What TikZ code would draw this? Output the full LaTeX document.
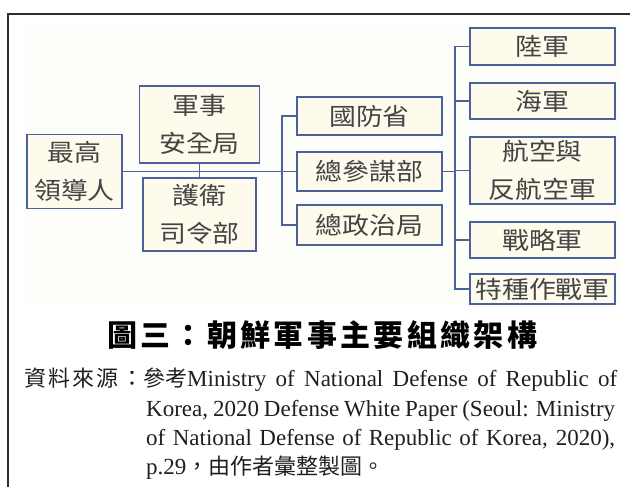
\documentclass[tikz,border=0pt]{standalone}
\usepackage{fontspec}
\setmainfont{Liberation Serif}
\newfontfamily\cjk{Noto Sans CJK TC}
\newfontfamily\cjkbox[FakeStretch=1.12]{Noto Sans CJK TC}
\newcommand\zh[1]{{\cjk\fontsize{22}{22}\selectfont #1}}
\definecolor{boxborder}{RGB}{74,97,153}
\definecolor{boxfill}{RGB}{255,251,236}
\definecolor{boxtext}{RGB}{68,68,68}
\definecolor{framecol}{RGB}{45,45,45}
\definecolor{panel}{RGB}{253,253,250}
\tikzset{
  orgbox/.style={draw=boxborder, line width=1.9pt, fill=boxfill, inner sep=0pt,
    align=center, text=boxtext, font=\cjkbox\fontsize{24}{38}\selectfont},
  conn/.style={draw=boxborder, line width=1.7pt},
  srcline/.style={anchor=base west, inner sep=0pt, font=\fontsize{23}{23}\selectfont, text=black!88}
}
\begin{document}
\begin{tikzpicture}[x=1pt,y=-1pt]
\useasboundingbox (0,0) rectangle (630,487);
% frame and panel
\fill[panel] (25,25) rectangle (620,306);
\draw[framecol, line width=2.2pt] (8,487) -- (8,14) -- (630,14);
% left column
\node[orgbox, minimum width=95pt, minimum height=74pt] (lead) at (74.5,171.5) {最高\\領導人};
\node[orgbox, minimum width=120pt, minimum height=77pt] (msa) at (199.5,124.5) {軍事\\安全局};
\node[orgbox, minimum width=113pt, minimum height=73pt] (guard) at (199.5,214.5) {護衛\\司令部};
% middle column
\node[orgbox, minimum width=145pt, minimum height=38pt] (mnd) at (369.5,116) {國防省};
\node[orgbox, minimum width=145pt, minimum height=39pt] (gsd) at (369.5,171.5) {總參謀部};
\node[orgbox, minimum width=145pt, minimum height=40pt] (gpb) at (369.5,225) {總政治局};
% right column
\node[orgbox, minimum width=145pt, minimum height=37pt] (army) at (542.5,46.5) {陸軍};
\node[orgbox, minimum width=145pt, minimum height=36pt] (navy) at (542.5,101) {海軍};
\node[orgbox, minimum width=145pt, minimum height=67pt] (air) at (542.5,170.5) {航空與\\反航空軍};
\node[orgbox, minimum width=145pt, minimum height=36pt] (strat) at (542.5,240) {戰略軍};
\node[orgbox, minimum width=145pt, minimum height=30pt] (sof) at (542.5,289) {特種作戰軍};
% junction columns
\coordinate (j1) at (282,0);
\coordinate (j2) at (455,0);
% connectors
\draw[conn] (lead.east) -- (gsd.west);
\draw[conn] (msa.south) -- (guard.north);
\draw[conn] (mnd.west) -- (j1 |- mnd.west) -- (j1 |- gpb.west) -- (gpb.west);
\draw[conn] (gsd.east) -- (j2 |- gsd.east);
\draw[conn] (army.west) -- (j2 |- army.west) -- (j2 |- sof.west) -- (sof.west);
\draw[conn] (j2 |- navy.west) -- (navy.west);
\draw[conn] (j2 |- air.west) -- (air.west);
\draw[conn] (j2 |- strat.west) -- (strat.west);
% title
\node[anchor=base west, inner sep=0pt] (title) at (107,346)
  {\makebox[430pt]{\cjk\bfseries\fontsize{30}{30}\selectfont 圖\hfill 三\hfill ：\hfill 朝\hfill 鮮\hfill 軍\hfill 事\hfill 主\hfill 要\hfill 組\hfill 織\hfill 架\hfill 構}};
% source
\node[srcline] (src0) at (24,386)
  {\makebox[119pt]{\cjk\fontsize{22}{22}\selectfont 資\hfill 料\hfill 來\hfill 源\hfill ：}};
\node[srcline] (src1) at (143,386)
  {\makebox[474pt][s]{\zh{參考}Ministry of National Defense of Republic of}};
\node[srcline] (src2) at (146,416)
  {\makebox[469pt][s]{Korea, 2020 Defense White Paper (Seoul: Ministry}};
\node[srcline] (src3) at (146,445.5)
  {\makebox[469pt][s]{of National Defense of Republic of Korea, 2020),}};
\node[srcline] (src4) at (146,474.5)
  {p.29\zh{，由作者彙整製圖。}};
\end{tikzpicture}
\end{document}
